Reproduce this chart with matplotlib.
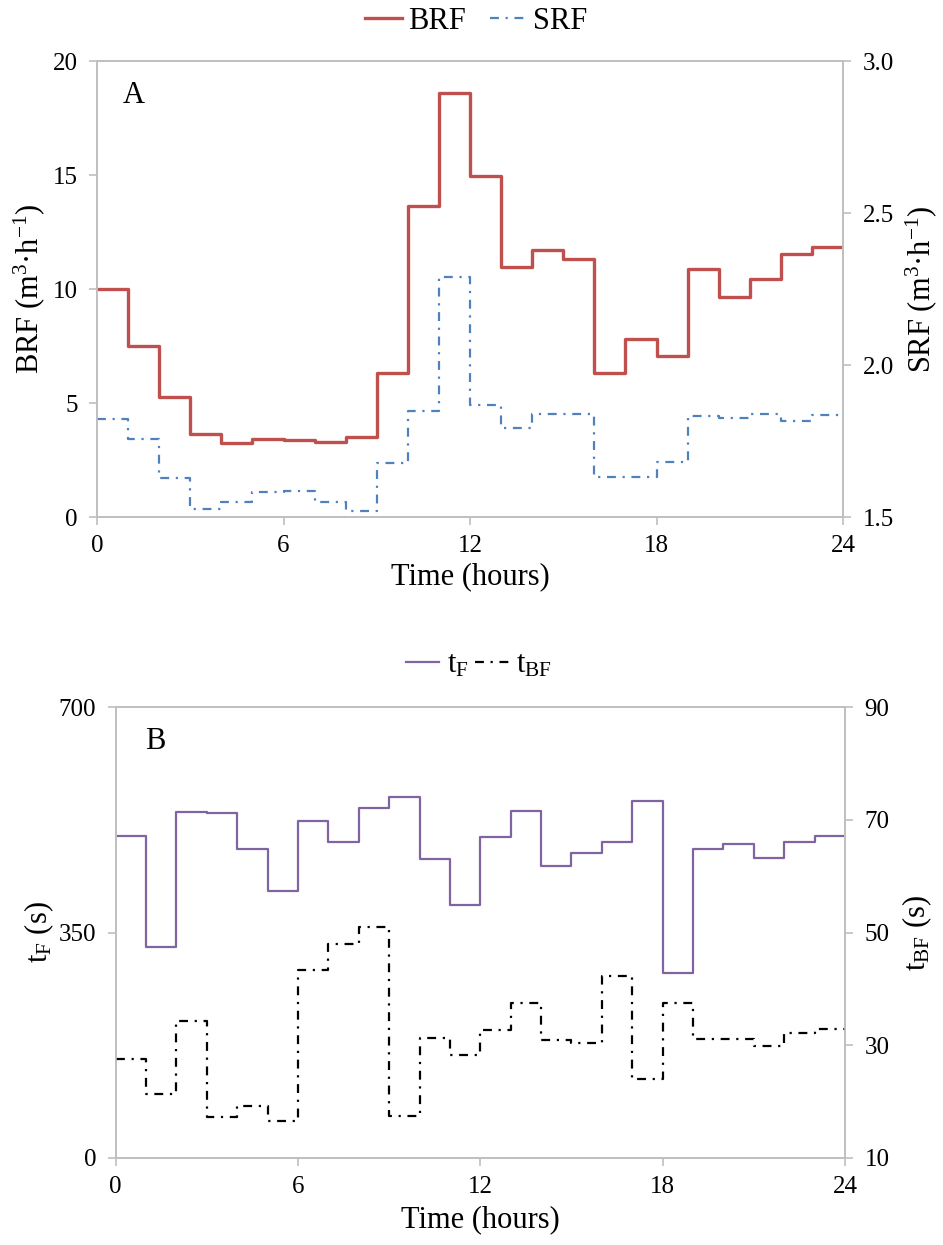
import numpy as np
import matplotlib
matplotlib.use("Agg")
import matplotlib.pyplot as plt

plt.rcParams['font.family'] = ['Liberation Serif', 'DejaVu Serif']
plt.rcParams['mathtext.fontset'] = 'custom'
plt.rcParams['mathtext.rm'] = 'Liberation Serif'
plt.rcParams['mathtext.it'] = 'Liberation Serif:italic'
plt.rcParams['mathtext.default'] = 'regular'

# Hourly data (value held over each hour)
hours = np.arange(25)
brf = [10.0, 7.51, 5.28, 3.64, 3.23, 3.41, 3.36, 3.29, 3.52, 6.30, 13.64, 18.61,
       14.96, 10.98, 11.71, 11.33, 6.30, 7.79, 7.06, 10.86, 9.63, 10.42, 11.53, 11.83]
srf = [1.822, 1.756, 1.630, 1.525, 1.548, 1.583, 1.586, 1.548, 1.519, 1.677, 1.849, 2.291,
       1.868, 1.794, 1.840, 1.838, 1.632, 1.632, 1.680, 1.833, 1.825, 1.840, 1.817, 1.835]
t_f = [500, 327, 538, 535, 479, 415, 524, 490, 543, 560, 465, 393,
       499, 539, 454, 473, 491, 554, 287, 480, 488, 466, 490, 500]
t_bf = [27.5, 21.4, 34.2, 17.2, 19.2, 16.6, 43.3, 47.9, 51.0, 17.4, 31.3, 28.2,
        32.6, 37.5, 30.9, 30.4, 42.3, 24.0, 37.5, 31.1, 31.1, 29.8, 32.2, 32.9]


def ext(v):
    return list(v) + [v[-1]]


grey = '#bfbfbf'
fs_tick = 18
fs_lab = 22


def style(ax):
    for s in ax.spines.values():
        s.set_color(grey)
        s.set_linewidth(1.2)
    ax.tick_params(colors=grey, labelcolor='black', labelsize=fs_tick,
                   length=6, width=1.2, direction='out', pad=8)
    ax.tick_params(axis='x', pad=7)


fig = plt.figure(figsize=(9.43, 12.45), dpi=100)

# Panel A
ax1 = fig.add_axes([0.1029, 0.5847, 0.7911, 0.3663])
ax1b = ax1.twinx()
l1, = ax1.step(hours, ext(brf), where='post', color='#c0504d', lw=2.4, label='BRF')
l2, = ax1b.step(hours, ext(srf), where='post', color='#4f81bd', lw=1.6,
                linestyle=(0, (4, 3, 1, 3)), label='SRF')
ax1.set_xlim(0, 24)
ax1.set_ylim(0, 20)
ax1b.set_ylim(1.5, 3.0)
ax1.set_xticks([0, 6, 12, 18, 24])
ax1.set_yticks([0, 5, 10, 15, 20])
ax1b.set_yticks([1.5, 2.0, 2.5, 3.0])
ax1b.set_yticklabels(['1.5', '2.0', '2.5', '3.0'])
ax1.set_xlabel('Time (hours)', fontsize=fs_lab, labelpad=4)
ax1.set_ylabel('BRF (m$^{3}$·h$^{-1}$)', fontsize=fs_lab, labelpad=4)
ax1b.set_ylabel('SRF (m$^{3}$·h$^{-1}$)', fontsize=fs_lab, labelpad=7)
style(ax1)
style(ax1b)
ax1.text(0.035, 0.925, 'A', transform=ax1.transAxes, fontsize=fs_lab, va='center')
fig.legend([l1, l2], ['BRF', 'SRF'], loc='center', bbox_to_anchor=(0.505, 0.983),
           ncol=2, frameon=False, fontsize=fs_lab, handlelength=1.2,
           handletextpad=0.2, columnspacing=0.8)

# Panel B
ax2 = fig.add_axes([0.1227, 0.0701, 0.7733, 0.3618])
ax2b = ax2.twinx()
l3, = ax2.step(hours, ext(t_f), where='post', color='#8064a2', lw=1.6, label='t$_{F}$')
l4, = ax2b.step(hours, ext(t_bf), where='post', color='black', lw=1.6,
                linestyle=(0, (4, 3, 1, 3)), label='t$_{BF}$')
ax2.set_xlim(0, 24)
ax2.set_ylim(0, 700)
ax2b.set_ylim(10, 90)
ax2.set_xticks([0, 6, 12, 18, 24])
ax2.set_yticks([0, 350, 700])
ax2b.set_yticks([10, 30, 50, 70, 90])
ax2.set_xlabel('Time (hours)', fontsize=fs_lab, labelpad=5)
ax2.set_ylabel('t$_{F}$ (s)', fontsize=fs_lab, labelpad=2)
ax2b.set_ylabel('t$_{BF}$ (s)', fontsize=fs_lab, labelpad=8)
style(ax2)
style(ax2b)
ax2.text(0.04, 0.925, 'B', transform=ax2.transAxes, fontsize=fs_lab, va='center')
fig.legend([l3, l4], ['t$_{F}$', 't$_{BF}$'], loc='center', bbox_to_anchor=(0.508, 0.466),
           ncol=2, frameon=False, fontsize=fs_lab, handlelength=1.1,
           handletextpad=0.25, columnspacing=0.2)

fig.savefig('out.png', dpi=100)
